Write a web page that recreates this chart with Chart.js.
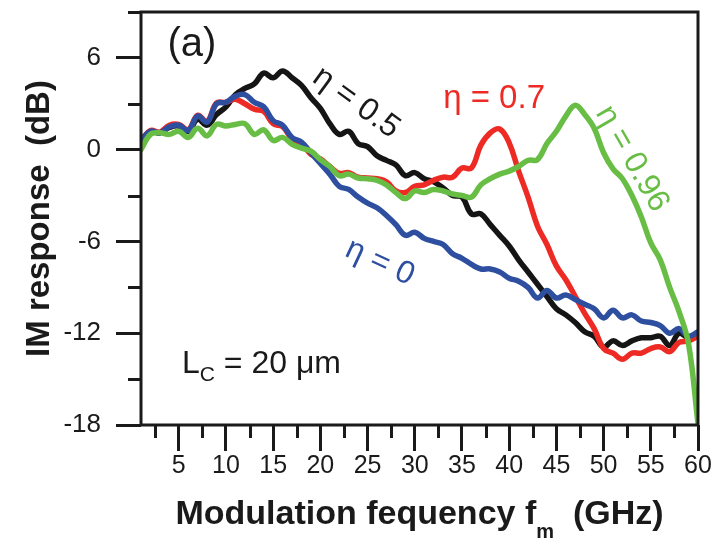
<!DOCTYPE html>
<html><head><meta charset="utf-8">
<script src="https://cdn.jsdelivr.net/npm/chart.js@4.4.1/dist/chart.umd.min.js"></script>
<style>html,body{margin:0;padding:0;background:#fff;}canvas{display:block;}</style>
</head><body>
<canvas id="c" width="717" height="553"></canvas>
<script>
// ---- data ----
const freqGHz = [1,2,3,4,5,6,7,8,9,10,11,12,13,14,15,16,17,18,19,20,21,22,23,24,25,26,27,28,29,30,31,32,33,34,35,36,37,38,39,40,41,42,43,44,45,46,47,48,49,50,51,52,53,54,55,56,57,58,59,60];
const respEta0 = [0.6,1.2,1.1,1.5,1.6,1.25,2.2,1.8,3.0,3.1,3.5,3.6,3.1,2.8,1.9,1.6,0.8,0.5,-0.2,-0.9,-1.6,-2.4,-2.6,-3.1,-3.5,-3.8,-4.3,-4.9,-5.6,-5.4,-5.8,-6.0,-6.2,-6.8,-7.1,-7.5,-7.8,-7.8,-8.0,-8.4,-8.6,-9.0,-9.7,-9.2,-9.7,-9.5,-9.8,-10.1,-10.4,-11.0,-10.5,-11.0,-10.8,-11.2,-11.3,-11.5,-12.0,-11.7,-12.2,-11.9];
const respEta05 = [0.6,1.2,1.1,1.45,1.55,1.2,2.0,1.6,2.3,2.8,3.6,4.0,4.3,5.0,4.7,5.15,4.7,4.2,3.4,2.7,1.7,1.0,1.2,0.4,0.2,-0.4,-0.7,-1.0,-1.7,-1.5,-1.9,-2.1,-2.5,-3.0,-3.1,-4.2,-4.2,-4.9,-5.6,-6.3,-7.2,-8.0,-8.8,-9.6,-10.4,-10.8,-11.3,-11.9,-12.2,-12.9,-12.5,-12.8,-12.5,-12.3,-12.3,-12.2,-12.8,-12.0,-12.3,-12.0];
const respEta07 = [0.6,1.25,1.15,1.6,1.65,1.3,2.25,1.85,3.05,3.1,3.3,3.0,2.65,2.5,1.7,1.5,0.7,0.4,-0.3,-0.6,-1.1,-1.55,-1.5,-1.8,-1.85,-1.9,-2.1,-2.7,-2.8,-2.4,-2.3,-2.0,-1.8,-1.8,-1.2,-1.2,0.3,1.1,1.35,0.45,-1.4,-3.1,-5.0,-6.2,-7.6,-8.5,-9.6,-10.7,-11.7,-13.0,-13.3,-13.7,-13.3,-13.3,-13.0,-12.9,-13.2,-12.6,-12.5,-12.2];
const respEta096 = [0.0,1.0,1.1,1.0,1.2,0.8,1.4,0.9,1.65,1.55,1.65,1.7,1.0,1.3,0.6,0.8,0.35,0.1,-0.1,-0.65,-1.1,-1.7,-1.6,-1.85,-1.9,-2.0,-2.3,-2.8,-3.2,-2.7,-2.8,-2.6,-2.7,-2.9,-3.0,-3.1,-2.3,-1.9,-1.6,-1.4,-1.1,-0.7,-0.65,0.4,1.2,2.2,2.9,2.3,1.4,-0.2,-1.25,-1.9,-3.0,-4.4,-6.1,-7.2,-9.0,-10.6,-12.7,-17.9];
const seriesLabels = ['η = 0','η = 0.5','η = 0.7','η = 0.96'];
const xMajorTicks = [5,10,15,20,25,30,35,40,45,50,55,60];
const xMinorTicks = [2.5,7.5,12.5,17.5,22.5,27.5,32.5,37.5,42.5,47.5,52.5,57.5];
const yMajorTicks = [-18,-12,-6,0,6];
const yMinorTicks = [-15,-9,-3,3,9];

const FONT = "'Liberation Sans', Arial, sans-serif";
const INK = '#1a1a1a';

const pts = arr => freqGHz.map((f,i)=>({x:f,y:arr[i]}));

// text annotations: anchor in data units
const annotations = [
  {text:'(a)', x:6.4, y:6.85, rot:0, color:INK, size:40},
  {text:'η = 0.5', x:23.8, y:3.07, rot:36, color:INK, size:32},
  {text:'η = 0.7', x:38.4, y:3.33, rot:0, color:'#ee2a24', size:33},
  {text:'η = 0.96', x:53.0, y:-0.59, rot:60, color:'#68bd45', size:32},
  {text:'η = 0', x:26.3, y:-7.37, rot:25, color:'#2e4fa0', size:32}
];

const decor = {
  id:'decor',
  afterDatasetsDraw(chart){
    const {ctx, chartArea:a, scales:{x,y}} = chart;
    ctx.save();
    ctx.strokeStyle = INK; ctx.lineWidth = 3; ctx.lineCap='butt';
    ctx.strokeRect(a.left, a.top, a.right-a.left, a.bottom-a.top);
    ctx.beginPath();
    xMinorTicks.forEach(v=>{const px=Math.round(x.getPixelForValue(v))+0.5; ctx.moveTo(px,a.bottom); ctx.lineTo(px,a.bottom+13);});
    yMinorTicks.forEach(v=>{const py=Math.round(y.getPixelForValue(v))+0.5; ctx.moveTo(a.left,py); ctx.lineTo(a.left-13,py);});
    ctx.stroke();
    annotations.forEach(t=>{
      ctx.save();
      ctx.translate(x.getPixelForValue(t.x), y.getPixelForValue(t.y));
      ctx.rotate(t.rot*Math.PI/180);
      ctx.font = `${t.size}px ${FONT}`;
      ctx.fillStyle = t.color; ctx.textAlign='center'; ctx.textBaseline='middle';
      ctx.fillText(t.text,0,0);
      ctx.restore();
    });
    let px = x.getPixelForValue(5.34), py = y.getPixelForValue(-14.6);
    ctx.fillStyle = INK; ctx.textAlign='left'; ctx.textBaseline='alphabetic';
    ctx.font = `32px ${FONT}`; ctx.fillText('L',px,py); px += ctx.measureText('L').width;
    ctx.font = `21px ${FONT}`; ctx.fillText('C',px,py+8); px += ctx.measureText('C').width;
    ctx.font = `32px ${FONT}`; ctx.fillText(' = 20 μm',px,py);
    const parts = [['Modulation fequency f',`bold 34px ${FONT}`,0],['m',`bold 20px ${FONT}`,14],['  (GHz)',`bold 34px ${FONT}`,0]];
    let w = 0; parts.forEach(p=>{ctx.font=p[1]; w+=ctx.measureText(p[0]).width;});
    let tx = (a.left+a.right)/2 - w/2; const ty = 524;
    parts.forEach(p=>{ctx.font=p[1]; ctx.fillText(p[0],tx,ty+p[2]); tx+=ctx.measureText(p[0]).width;});
    ctx.restore();
  }
};

new Chart(document.getElementById('c'), {
  type:'line',
  data:{datasets:[
    {label:seriesLabels[3], data:pts(respEta096), borderColor:'#68bd45', order:0},
    {label:seriesLabels[0], data:pts(respEta0), borderColor:'#2e4fa0', order:1},
    {label:seriesLabels[2], data:pts(respEta07), borderColor:'#ee2a24', order:2},
    {label:seriesLabels[1], data:pts(respEta05), borderColor:'#151515', order:3}
  ].map(d=>Object.assign(d,{borderWidth:5.5, pointRadius:0, tension:0.4, fill:false, borderJoinStyle:'round', borderCapStyle:'round'}))},
  options:{
    responsive:false, animation:false, events:[],
    layout:{padding:{top:12,right:19,left:0,bottom:0}},
    plugins:{legend:{display:false}, tooltip:{enabled:false}},
    scales:{
      x:{type:'linear', min:1, max:60,
        afterBuildTicks:s=>{s.ticks = xMajorTicks.map(v=>({value:v}));},
        afterFit:s=>{s.height=128; s.paddingLeft=0; s.paddingRight=0;},
        grid:{drawOnChartArea:false, drawTicks:true, tickLength:26, tickWidth:3, tickColor:INK},
        border:{display:false},
        ticks:{font:{family:FONT,size:25}, color:INK, padding:0, maxRotation:0, autoSkip:false}},
      y:{type:'linear', min:-18, max:9,
        afterBuildTicks:s=>{s.ticks = yMajorTicks.map(v=>({value:v}));},
        afterFit:s=>{s.width=141; s.paddingTop=0; s.paddingBottom=0;},
        grid:{drawOnChartArea:false, drawTicks:true, tickLength:25, tickWidth:3, tickColor:INK},
        border:{display:false},
        ticks:{font:{family:FONT,size:26}, color:INK, padding:15, autoSkip:false},
        title:{display:true, text:'IM response  (dB)', font:{family:FONT,size:33,weight:'bold'}, color:INK, padding:{top:20,bottom:0}}}
    }
  },
  plugins:[decor]
});
</script>
</body></html>
